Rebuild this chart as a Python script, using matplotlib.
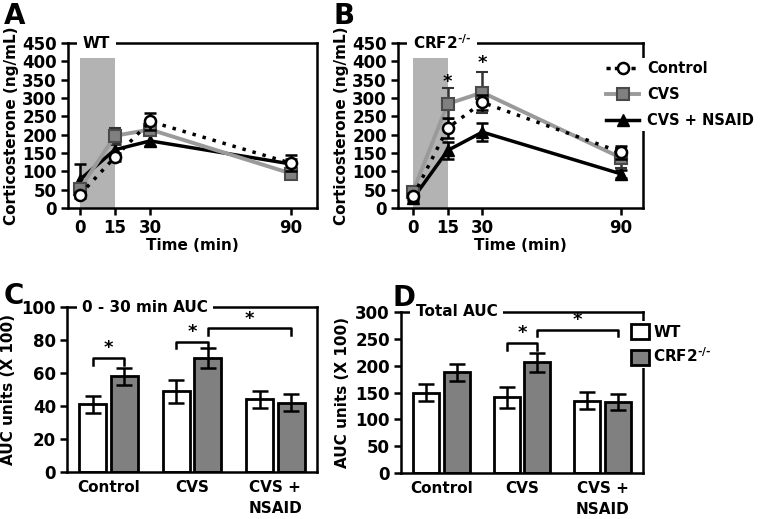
import matplotlib.pyplot as plt
from matplotlib.patches import Patch
from matplotlib.lines import Line2D
import numpy as np

plt.rcParams['font.family'] = 'DejaVu Sans'
plt.rcParams['font.weight'] = 'bold'
plt.rcParams['axes.labelweight'] = 'bold'
plt.rcParams['font.size'] = 11
plt.rcParams['mathtext.fontset'] = 'dejavusans'

# time course data (ng/mL)
times = [0, 15, 30, 90]
a_control = [36, 139, 236, 122]
a_control_err = [8, 10, 22, 22]
a_cvs = [52, 197, 214, 94]
a_cvs_err = [10, 22, 15, 12]
a_nsaid = [77, 159, 183, 120]
a_nsaid_err = [42, 15, 15, 15]

b_control = [32, 218, 288, 152]
b_control_err = [8, 28, 20, 18]
b_cvs = [45, 284, 315, 137]
b_cvs_err = [8, 42, 55, 28]
b_nsaid = [26, 157, 207, 93]
b_nsaid_err = [8, 23, 25, 12]
b_stars = [(15, 345), (30, 395)]

# AUC data (x100)
groups = ["Control", "CVS", "CVS +\nNSAID"]
c_wt = [41, 49, 44]
c_wt_err = [5, 7, 5]
c_ko = [58, 69, 42]
c_ko_err = [5, 6, 5]
d_wt = [150, 141, 135]
d_wt_err = [16, 20, 16]
d_ko = [188, 206, 133]
d_ko_err = [16, 17, 15]

# brackets: (x1, x2, y, leg)
c_brackets = [(-0.19, 0.19, 69, 4), (0.81, 1.19, 79, 4), (1.19, 2.19, 87, 4)]
d_brackets = [(0.81, 1.19, 243, 14), (1.19, 2.19, 267, 11)]

KO = r'CRF2$^{\mathbf{‐/‐}}$'

fig = plt.figure(figsize=(7.62, 5.19), dpi=100)
W, H = 762, 519

def add_ax(l, t, r, b):
    return fig.add_axes([l / W, 1 - b / H, (r - l) / W, (b - t) / H])

axA = add_ax(68, 43, 317, 208)
axB = add_ax(398, 43, 643, 208)
axC = add_ax(67, 307, 317, 472)
axD = add_ax(401, 312, 643, 473)

gray_fill = '#808080'
gray_line = '#9a9a9a'

def style(ax):
    for s in ax.spines.values():
        s.set_linewidth(1.8)
    ax.tick_params(width=1.8, length=5, direction='out', pad=3, labelsize=12)

def box_title(ax, text):
    ax.text(0.06, 1.0, text, transform=ax.transAxes, ha='left', va='center',
            fontsize=11, bbox=dict(facecolor='white', edgecolor='none', pad=4),
            zorder=10, clip_on=False)

def time_panel(ax, ctrl, ctrl_e, cvs, cvs_e, nsaid, nsaid_e, xlim):
    ax.axvspan(0, 15, ymax=410 / 450, color='#b3b3b3', lw=0, zorder=0)
    ax.errorbar(times, nsaid, yerr=nsaid_e, color='black', lw=2.5, marker='^',
                ms=9, mfc='black', mec='black', ecolor='black', elinewidth=1.8,
                capsize=4, capthick=1.8, zorder=3)
    ax.errorbar(times, cvs, yerr=cvs_e, color=gray_line, lw=2.8, marker='s',
                ms=9, mfc=gray_fill, mec='#4a4a4a', mew=1.5, ecolor='#333333',
                elinewidth=1.8, capsize=4, capthick=1.8, zorder=4)
    ax.errorbar(times, ctrl, yerr=ctrl_e, color='black', lw=2.5, ls=(0, (1, 2)),
                marker='o', ms=8, mfc='white', mec='black', mew=1.8,
                ecolor='black', elinewidth=1.8, capsize=4, capthick=1.8,
                zorder=5)
    ax.set_xlim(*xlim)
    ax.set_ylim(0, 450)
    ax.set_yticks(np.arange(0, 451, 50))
    ax.set_xticks(times)
    ax.set_xlabel('Time (min)', labelpad=1)
    ax.set_ylabel('Corticosterone (ng/mL)', labelpad=2)
    style(ax)

time_panel(axA, a_control, a_control_err, a_cvs, a_cvs_err, a_nsaid, a_nsaid_err, (-5, 101))
box_title(axA, 'WT')
time_panel(axB, b_control, b_control_err, b_cvs, b_cvs_err, b_nsaid, b_nsaid_err, (-6.5, 99.5))
box_title(axB, KO)
for x, y in b_stars:
    axB.text(x, y, '*', ha='center', va='center', fontsize=13)

handles = [
    Line2D([], [], color='black', lw=2.5, ls=(0, (1.2, 1.2)), marker='o', ms=8,
           mfc='white', mec='black', mew=1.8),
    Line2D([], [], color=gray_line, lw=2.8, marker='s', ms=9, mfc=gray_fill,
           mec='#4a4a4a', mew=1.5),
    Line2D([], [], color='black', lw=2.5, marker='^', ms=9, mfc='black', mec='black'),
]
axB.legend(handles, ['Control', 'CVS', 'CVS + NSAID'], loc='upper left',
           bbox_to_anchor=(603 / W, 1 - 58 / H), bbox_transform=fig.transFigure,
           frameon=True, facecolor='white', edgecolor='none', framealpha=1,
           handlelength=2.3, handletextpad=0.55, labelspacing=0.75,
           borderpad=0.2, borderaxespad=0, fontsize=10.5)


def auc_panel(ax, wt, wt_e, ko, ko_e, ymax, step, brackets, title):
    x = np.arange(len(groups))
    w = 0.325
    ax.bar(x - 0.19, wt, w, yerr=wt_e, color='white', edgecolor='black', lw=2,
           error_kw=dict(elinewidth=1.8, capsize=6, capthick=1.8), zorder=2)
    ax.bar(x + 0.19, ko, w, yerr=ko_e, color=gray_fill, edgecolor='black', lw=2,
           error_kw=dict(elinewidth=1.8, capsize=6, capthick=1.8), zorder=2)
    ax.set_xlim(-0.5, 2.5)
    ax.set_ylim(0, ymax)
    ax.set_yticks(np.arange(0, ymax + 1, step))
    ax.set_xticks(x)
    ax.set_xticklabels(groups, linespacing=1.5)
    ax.set_ylabel('AUC units (X 100)', labelpad=4)
    style(ax)
    ax.tick_params(axis='x', length=0, pad=6, labelsize=11)
    for x1, x2, y, leg in brackets:
        ax.plot([x1, x1, x2, x2], [y - leg, y, y, y - leg], color='black', lw=1.8,
                clip_on=False, zorder=3)
        ax.text((x1 + x2) / 2, y + 0.06 * ymax, '*', ha='center', va='center',
                fontsize=13)
    box_title(ax, title)

auc_panel(axC, c_wt, c_wt_err, c_ko, c_ko_err, 100, 20, c_brackets, '0 - 30 min AUC')
auc_panel(axD, d_wt, d_wt_err, d_ko, d_ko_err, 300, 50, d_brackets, 'Total AUC')

axD.legend([Patch(facecolor='white', edgecolor='black', lw=2),
            Patch(facecolor=gray_fill, edgecolor='black', lw=2)],
           ['WT', KO], loc='upper left',
           bbox_to_anchor=(628 / W, 1 - 321 / H), bbox_transform=fig.transFigure,
           frameon=True, facecolor='white', edgecolor='none', framealpha=1,
           handlelength=1.2, handleheight=1.15, handletextpad=0.25,
           labelspacing=0.45, borderpad=0.2, borderaxespad=0, fontsize=11)

for lab, x, y in [('A', 4, 2), ('B', 334, 2), ('C', 4, 282), ('D', 392, 284)]:
    fig.text(x / W, 1 - y / H, lab, fontsize=20, fontweight='bold', va='top', ha='left')

fig.savefig('out.png', dpi=100)
